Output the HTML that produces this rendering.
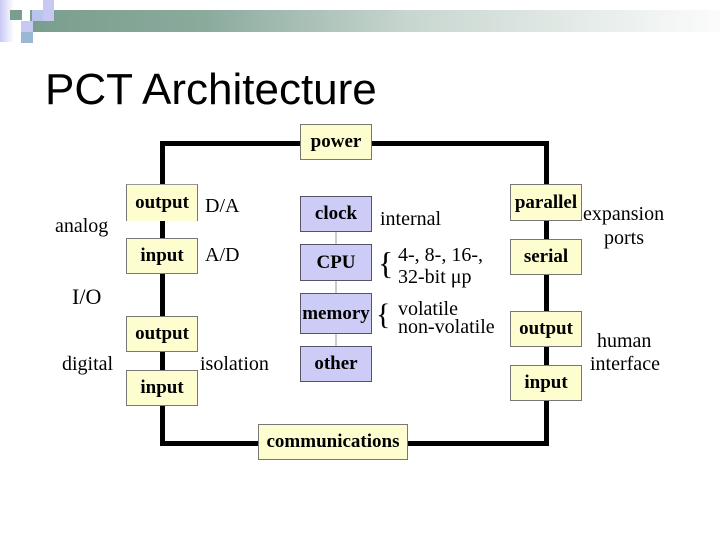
<!DOCTYPE html>
<html><head><style>
body{margin:0;width:720px;height:540px;background:#fff;position:relative;overflow:hidden;font-family:"Liberation Serif",serif}
.a{position:absolute}
.b{position:absolute;box-sizing:border-box;border:1px solid #777;display:flex;align-items:center;justify-content:center;font-weight:bold;font-size:19px;background:#fdfdcf;color:#000;white-space:nowrap}
.c{background:#ccccf6;border-color:#556}
.t{position:absolute;font-size:20px;line-height:1;color:#000;white-space:nowrap}
.k{position:absolute;background:#000}
</style></head><body>
<div class="a" style="left:30px;top:10px;width:690px;height:22px;background:linear-gradient(to right,#7a9e8e 0%,#8aaa9c 25%,#c8d6d0 55%,#fbfcfb 100%)"></div>
<div class="a" style="left:0;top:0;width:14px;height:42px;background:linear-gradient(to right,#c8c8f4,#fff)"></div>
<div class="a" style="left:10px;top:10px;width:12px;height:10px;background:#7a9e8e"></div>
<div class="a" style="left:21px;top:21px;width:12px;height:11px;background:#c8c8f4"></div>
<div class="a" style="left:21px;top:32px;width:12px;height:11px;background:#9ab8d4"></div>
<div class="a" style="left:32px;top:10px;width:11px;height:11px;background:#b8c4ec"></div>
<div class="a" style="left:43px;top:0;width:11px;height:21px;background:#c8c8f4"></div>
<div class="a" style="left:45px;top:65px;font-family:'Liberation Sans',sans-serif;font-size:44px;color:#000">PCT Architecture</div>

<div class="k" style="left:160px;top:141px;width:389px;height:5px"></div>
<div class="k" style="left:160px;top:441px;width:389px;height:5px"></div>
<div class="k" style="left:160px;top:141px;width:5px;height:305px"></div>
<div class="k" style="left:544px;top:141px;width:5px;height:305px"></div>
<div class="a" style="left:335px;top:232px;width:2px;height:114px;background:#ccc"></div>

<div class="b" style="left:300px;top:124px;width:72px;height:36px">power</div>
<div class="b" style="left:258px;top:424px;width:150px;height:36px">communications</div>

<div class="b" style="left:126px;top:184px;width:72px;height:37px;border-top-color:#999;border-bottom:none">output</div>
<div class="b" style="left:126px;top:238px;width:72px;height:36px">input</div>
<div class="b" style="left:126px;top:316px;width:72px;height:36px">output</div>
<div class="b" style="left:126px;top:370px;width:72px;height:36px">input</div>

<div class="b c" style="left:300px;top:196px;width:72px;height:36px">clock</div>
<div class="b c" style="left:300px;top:244px;width:72px;height:37px">CPU</div>
<div class="b c" style="left:300px;top:293px;width:72px;height:41px">memory</div>
<div class="b c" style="left:300px;top:346px;width:72px;height:36px">other</div>

<div class="b" style="left:510px;top:184px;width:72px;height:37px">parallel</div>
<div class="b" style="left:510px;top:239px;width:72px;height:36px">serial</div>
<div class="b" style="left:510px;top:311px;width:72px;height:36px">output</div>
<div class="b" style="left:510px;top:365px;width:72px;height:36px">input</div>

<div class="t" style="left:205px;top:196px">D/A</div>
<div class="t" style="left:205px;top:245px">A/D</div>
<div class="t" style="left:55px;top:216px">analog</div>
<div class="t" style="left:72px;top:286px;font-size:22px">I/O</div>
<div class="t" style="left:62px;top:354px">digital</div>
<div class="t" style="left:200px;top:354px">isolation</div>
<div class="t" style="left:380px;top:209px">internal</div>
<div class="t" style="left:378px;top:247px;font-size:32px;font-weight:100">{</div>
<div class="t" style="left:398px;top:245px">4-, 8-, 16-,</div>
<div class="t" style="left:398px;top:267px">32-bit μp</div>
<div class="t" style="left:376px;top:300px;font-size:30px;font-weight:100">{</div>
<div class="t" style="left:398px;top:299px">volatile</div>
<div class="t" style="left:398px;top:317px">non-volatile</div>
<div class="t" style="left:583px;top:204px">expansion</div>
<div class="t" style="left:604px;top:228px">ports</div>
<div class="t" style="left:597px;top:331px">human</div>
<div class="t" style="left:590px;top:354px">interface</div>
</body></html>
